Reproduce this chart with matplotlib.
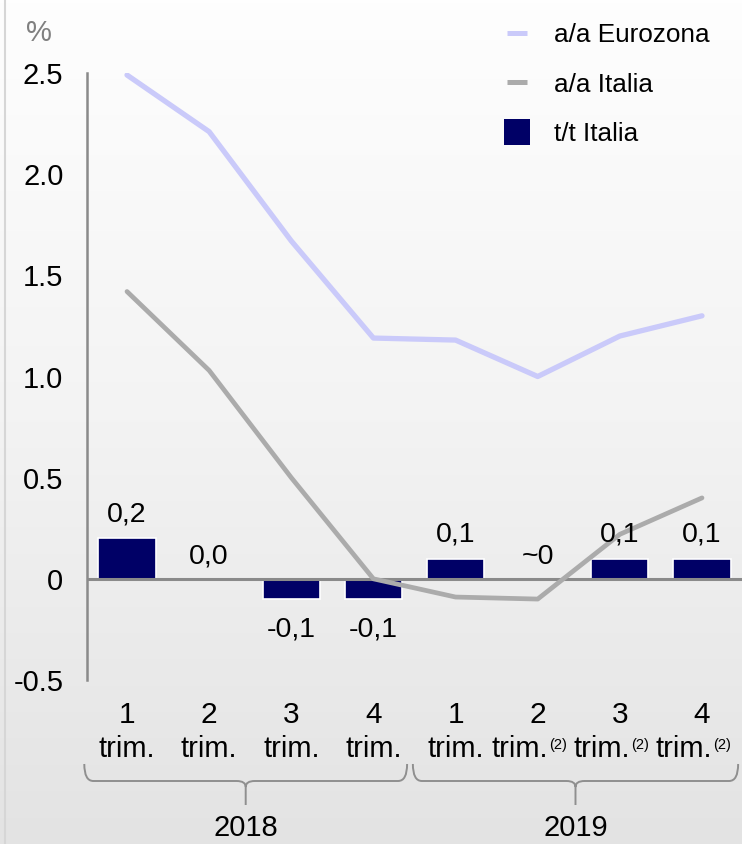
import numpy as np
import matplotlib
matplotlib.use("Agg")
import matplotlib.pyplot as plt
from matplotlib.colors import LinearSegmentedColormap
from matplotlib.lines import Line2D
from matplotlib.path import Path
from matplotlib.patches import PathPatch
import matplotlib.transforms as mtransforms

plt.rcParams['font.family'] = ['Liberation Sans', 'DejaVu Sans']

# ---- data -------------------------------------------------------------
quarters = ["1", "2", "3", "4", "1", "2", "3", "4"]
years = ["2018", "2019"]
eurozona_yoy = [2.49, 2.21, 1.67, 1.19, 1.18, 1.00, 1.20, 1.30]
italia_yoy = [1.42, 1.03, 0.50, 0.00, -0.09, -0.10, 0.22, 0.40]
italia_qoq = [0.2, 0.0, -0.1, -0.1, 0.1, 0.0, 0.1, 0.1]
qoq_approx = [False, False, False, False, False, True, False, False]
estimate_note = [False, False, False, False, False, True, True, True]
y_ticks = [-0.5, 0, 0.5, 1.0, 1.5, 2.0, 2.5]
y_ticklabels = ["-0.5", "0", "0.5", "1.0", "1.5", "2.0", "2.5"]

W, H = 742, 844
C_EURO = "#cacafa"
C_ITA = "#ababab"
C_BAR = "#000066"
C_AXIS = "#8a8a8a"

fig = plt.figure(figsize=(W / 100, H / 100), dpi=100)

# soft vertical background gradient
bg = fig.add_axes([0, 0, 1, 1], zorder=-10)
grad = np.linspace(0, 1, 256).reshape(-1, 1)
cmap = LinearSegmentedColormap.from_list("bg", ["#fefefe", "#f3f3f3", "#e3e3e3"])
bg.imshow(grad, aspect="auto", cmap=cmap, extent=[0, 1, 0, 1], origin="upper")
bg.plot([5 / W, 5 / W], [0, 1], color="#d6d6d6", lw=1.5)
bg.set_xlim(0, 1)
bg.set_ylim(0, 1)
bg.axis("off")

def px(x, y):
    """pixel position -> figure fraction"""
    return x / W, 1 - y / H

ax_left, ax_bottom = px(87, 680)
_, ax_top = px(87, 73)
ax = fig.add_axes([ax_left, ax_bottom, 1 - ax_left, ax_top - ax_bottom])
ax.patch.set_alpha(0)

x = np.arange(len(quarters))
ax.bar(x, italia_qoq, width=0.694, color=C_BAR, edgecolor="white",
       linewidth=1.2, zorder=2)
ax.axhline(0, color=C_AXIS, lw=2.2, zorder=3)
ax.plot(x, eurozona_yoy, color=C_EURO, lw=3.8, solid_capstyle="round",
        solid_joinstyle="round", zorder=4)
ax.plot(x, italia_yoy, color=C_ITA, lw=3.4, solid_capstyle="round",
        solid_joinstyle="round", zorder=4)

ax.set_xlim(-0.487, 7.487)
ax.set_ylim(-0.5, 2.5)
for s in ["top", "right", "bottom"]:
    ax.spines[s].set_visible(False)
ax.spines["left"].set_color(C_AXIS)
ax.spines["left"].set_linewidth(1.8)
ax.set_xticks([])
ax.set_yticks(y_ticks)
ax.set_yticklabels(y_ticklabels, fontsize=21)
ax.tick_params(axis="y", length=0, pad=17)

# value labels on the quarter-on-quarter bars
for xi, v, approx in zip(x, italia_qoq, qoq_approx):
    txt = "~0" if approx else f"{v:.1f}".replace(".", ",")
    if v < 0:
        off = -22
    elif v == 0:
        off = 16
    else:
        off = 17
    ax.annotate(txt, (xi, v), xytext=(0, off), textcoords="offset points",
                ha="center", va="center", fontsize=20.5, zorder=5)

# quarter labels
xa = mtransforms.blended_transform_factory(ax.transData, ax.transAxes)
for xi, q, note in zip(x, quarters, estimate_note):
    ax.annotate(q, (xi, 0), xycoords=xa, xytext=(0, -31),
                textcoords="offset points", ha="center", va="baseline",
                fontsize=21.5, annotation_clip=False)
    dx = -13 if note else 0
    ax.annotate("trim.", (xi, 0), xycoords=xa, xytext=(dx, -55.4),
                textcoords="offset points", ha="center", va="baseline",
                fontsize=21, annotation_clip=False)
    if note:
        ax.annotate("(2)", (xi, 0), xycoords=xa, xytext=(dx + 21, -50),
                    textcoords="offset points", ha="left", va="baseline",
                    fontsize=10.5, annotation_clip=False)

# year braces
xf = mtransforms.blended_transform_factory(ax.transData, fig.transFigure)
yt, yh, yb = 1 - 764 / H, 1 - 781 / H, 1 - 805 / H
dy = 6 / H

def brace(x0, x1):
    xm = (x0 + x1) / 2
    r = 0.11
    verts = [(x0, yt), (x0, yh), (x0 + r, yh),
             (xm - r, yh), (xm, yh), (xm, yh - dy),
             (xm, yb),
             (xm, yh - dy), (xm, yh), (xm + r, yh),
             (x1 - r, yh), (x1, yh), (x1, yt)]
    codes = [Path.MOVETO, Path.CURVE3, Path.CURVE3,
             Path.LINETO, Path.CURVE3, Path.CURVE3,
             Path.LINETO,
             Path.MOVETO, Path.CURVE3, Path.CURVE3,
             Path.LINETO, Path.CURVE3, Path.CURVE3]
    patch = PathPatch(Path(verts, codes), transform=xf, fill=False,
                      edgecolor="#8f8f8f", lw=1.4, clip_on=False)
    ax.add_patch(patch)
    return xm

for (x0, x1), yr in zip([(-0.52, 3.41), (3.48, 7.44)], years):
    xm = brace(x0, x1)
    ax.text(xm, 1 - 836 / H, yr, transform=xf, ha="center", va="baseline",
            fontsize=21)

# unit label
fig.text(*px(39, 33), "%", ha="center", va="center", fontsize=21,
         color="#808080")

# legend
handles = [
    Line2D([], [], ls="none", marker="_", markersize=14.4,
           markeredgewidth=3.6, color=C_EURO, label="a/a Eurozona"),
    Line2D([], [], ls="none", marker="_", markersize=14.4,
           markeredgewidth=3.6, color=C_ITA, label="a/a Italia"),
    Line2D([], [], ls="none", marker="s", markersize=19.4,
           markeredgewidth=0, color=C_BAR, label="t/t Italia"),
]
ax.legend(handles=handles, loc="upper left", bbox_to_anchor=px(503, 23),
          bbox_transform=fig.transFigure, frameon=False, fontsize=18.8,
          handlelength=1.1, handletextpad=0.84, labelspacing=0.98,
          borderpad=0, borderaxespad=0)

fig.savefig("out.png", dpi=100)
